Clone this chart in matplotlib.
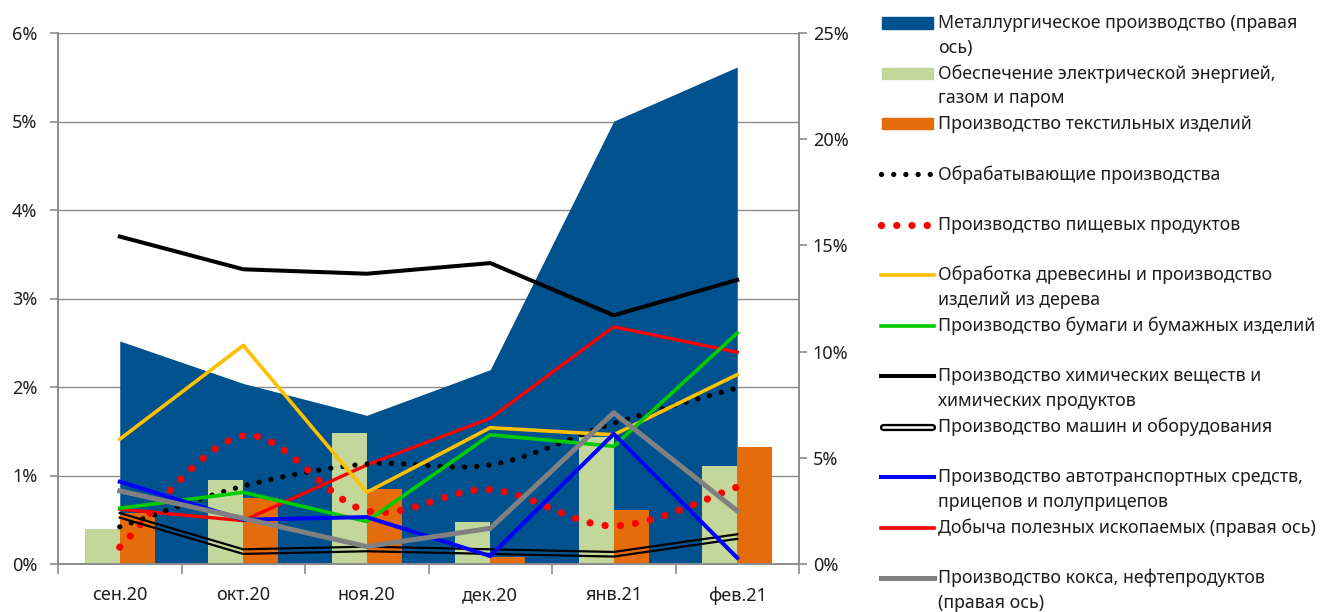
import numpy as np
import matplotlib
matplotlib.use('Agg')
import matplotlib.pyplot as plt
import matplotlib.transforms as mtransforms
from matplotlib.lines import Line2D
from matplotlib.patches import Rectangle

# Data (left axis in %, except series marked "right")
months = ['сен.20', 'окт.20', 'ноя.20', 'дек.20', 'янв.21', 'фев.21']
metal = [10.5, 8.5, 7.0, 9.15, 20.85, 23.4]          # right axis
electricity = [0.40, 0.95, 1.48, 0.48, 1.43, 1.11]
textile = [0.58, 0.75, 0.85, 0.08, 0.61, 1.32]
manufacturing = [0.42, 0.88, 1.13, 1.12, 1.59, 1.99]
food = [0.19, 1.45, 0.60, 0.84, 0.43, 0.87]
wood = [1.41, 2.47, 0.81, 1.54, 1.46, 2.14]
paper = [0.63, 0.81, 0.48, 1.46, 1.33, 2.61]
chemicals = [3.70, 3.33, 3.28, 3.40, 2.81, 3.21]
machines = [0.55, 0.14, 0.17, 0.14, 0.11, 0.31]
vehicles = [0.93, 0.50, 0.53, 0.09, 1.47, 0.07]
mining = [2.58, 2.04, 4.66, 6.86, 11.17, 9.97]         # right axis
coke = [3.44, 2.15, 0.82, 1.68, 7.12, 2.50]            # right axis

left_ticks = [0, 1, 2, 3, 4, 5, 6]
right_ticks = [0, 5, 10, 15, 20, 25]

legend_labels = [
    ['Металлургическое производство (правая', 'ось)'],
    ['Обеспечение электрической энергией,', 'газом и паром'],
    ['Производство текстильных изделий'],
    ['Обрабатывающие производства'],
    ['Производство пищевых продуктов'],
    ['Обработка древесины и производство', 'изделий из дерева'],
    ['Производство бумаги и бумажных изделий'],
    ['Производство химических веществ и', 'химических продуктов'],
    ['Производство машин и оборудования'],
    ['Производство автотранспортных средств,', 'прицепов и полуприцепов'],
    ['Добыча полезных ископаемых (правая ось)'],
    ['Производство кокса, нефтепродуктов', '(правая ось)'],
]

C_AREA = '#00528E'
C_ELEC = '#C4D79B'
C_TEXT = '#E46C0A'
C_GRID = '#8C8C8C'
C_LABEL = '#1E1E1E'

plt.rcParams['font.family'] = ['Noto Sans', 'DejaVu Sans']


def smooth(xs, ys, n=25):
    # Excel-style smoothed line (Bezier through the points)
    pts = np.column_stack([xs, ys]).astype(float)
    P = np.vstack([pts[0], pts, pts[-1]])
    t = np.linspace(0, 1, n)[:, None]
    out = []
    for i in range(1, len(P) - 2):
        p0, p1, p2, p3 = P[i - 1], P[i], P[i + 1], P[i + 2]
        c1 = p1 + (p2 - p0) / 6
        c2 = p2 - (p3 - p1) / 6
        seg = (1 - t) ** 3 * p1 + 3 * (1 - t) ** 2 * t * c1 + 3 * (1 - t) * t ** 2 * c2 + t ** 3 * p2
        out.append(seg if i == 1 else seg[1:])
    out = np.vstack(out)
    return out[:, 0], out[:, 1]


W, H = 1320, 612
fig = plt.figure(figsize=(W / 100, H / 100), dpi=100)
rect = [58 / W, 1 - 564 / H, (799 - 58) / W, (564 - 33) / H]
ax = fig.add_axes(rect)
ax2 = ax.twinx()

x = np.arange(len(months))

ax.set_xlim(-0.5, len(months) - 0.5)
ax.set_ylim(0, 6)
ax2.set_ylim(0, 25)

# grid below everything
ax.set_axisbelow(True)
ax.yaxis.grid(True, color=C_GRID, lw=1.0, zorder=0)

# metallurgy area (right axis scale, drawn inside the left axes for ordering)
ax.fill_between(x, 0, metal, color=C_AREA, lw=0, zorder=1, transform=ax2.transData)

# bars
bw = 0.283
ax.bar(x - bw / 2, electricity, bw, color=C_ELEC, zorder=2)
ax.bar(x + bw / 2, textile, bw, color=C_TEXT, zorder=2)

# lines
sx, sy = smooth(x, manufacturing)
ax.plot(sx, sy, color='black', lw=3.8, ls=(0, (0.01, 2.3)), dash_capstyle='round', zorder=4)
sx, sy = smooth(x, food)
ax.plot(sx, sy, color='#FF0000', lw=5.2, ls=(0, (0.01, 2.1)), dash_capstyle='round', zorder=4)
ax.plot(x, wood, color='#FFC000', lw=2.6, zorder=4)
ax.plot(x, paper, color='#00CC00', lw=2.6, zorder=4)
ax.plot(x, chemicals, color='black', lw=2.9, zorder=4)
off_up = mtransforms.offset_copy(ax.transData, fig=fig, y=2.3, units='dots')
off_dn = mtransforms.offset_copy(ax.transData, fig=fig, y=-2.3, units='dots')
ax.plot(x, machines, color='black', lw=1.6, zorder=4, transform=off_up)
ax.plot(x, machines, color='black', lw=1.6, zorder=4, transform=off_dn)
ax.plot(x, vehicles, color='#0000FF', lw=2.9, zorder=4)
ax.plot(x, mining, color='#FF0000', lw=2.4, zorder=3.9, transform=ax2.transData)
ax.plot(x, coke, color='#808080', lw=3.6, zorder=4, transform=ax2.transData)

# axes styling
ax.set_xticks(x)
ax.set_xticklabels(months, fontsize=13, color=C_LABEL)
ax.set_xticks(np.arange(-0.5, len(months)), minor=True)
ax.tick_params(axis='x', which='major', length=0, pad=16)
ax.tick_params(axis='x', which='minor', length=7, color=C_GRID, width=1.2)
ax.set_yticks(left_ticks)
ax.set_yticklabels([f'{v}%' for v in left_ticks], fontsize=13, color=C_LABEL)
ax.tick_params(axis='y', length=6, color=C_GRID, width=1.2, pad=9)
ax2.set_yticks(right_ticks)
ax2.set_yticklabels([f'{v}%' for v in right_ticks], fontsize=13, color=C_LABEL)
ax2.tick_params(axis='y', length=6, color=C_GRID, width=1.2, pad=4)
for a in (ax, ax2):
    a.spines['top'].set_visible(False)
    for s in ('left', 'right', 'bottom'):
        a.spines[s].set_color(C_GRID)
        a.spines[s].set_linewidth(1.2)

# legend (Excel layout: fixed slot height, handle on first text line)
fx = lambda px: px / W
fy = lambda py: 1 - py / H
styles = [
    dict(kind='patch', color=C_AREA),
    dict(kind='patch', color=C_ELEC),
    dict(kind='patch', color=C_TEXT),
    dict(kind='line', color='black', lw=3.8, ls=(0, (0.01, 2.3)), dash_capstyle='round'),
    dict(kind='line', color='#FF0000', lw=5.2, ls=(0, (0.01, 2.1)), dash_capstyle='round'),
    dict(kind='line', color='#FFC000', lw=2.6),
    dict(kind='line', color='#00CC00', lw=2.6),
    dict(kind='line', color='black', lw=2.9),
    dict(kind='double'),
    dict(kind='line', color='#0000FF', lw=2.9),
    dict(kind='line', color='#FF0000', lw=2.6),
    dict(kind='line', color='#808080', lw=3.6),
]
for i, (lines, st) in enumerate(zip(legend_labels, styles)):
    y0 = 23 + 50.45 * i
    if st['kind'] == 'patch':
        fig.add_artist(Rectangle((fx(882), fy(y0 + 5.5)), fx(933) - fx(882), 11 / H,
                                 color=st['color'], transform=fig.transFigure))
    elif st['kind'] == 'double':
        fig.add_artist(Line2D([fx(883), fx(932)], [fy(y0), fy(y0)], color='black', lw=5.2,
                              solid_capstyle='round', transform=fig.transFigure))
        fig.add_artist(Line2D([fx(883), fx(932)], [fy(y0), fy(y0)], color='white', lw=1.8,
                              solid_capstyle='round', transform=fig.transFigure))
    else:
        kw = {k: v for k, v in st.items() if k not in ('kind',)}
        fig.add_artist(Line2D([fx(881), fx(934)], [fy(y0), fy(y0)], transform=fig.transFigure, **kw))
    for j, t in enumerate(lines):
        fig.text(fx(938), fy(y0 + 25 * j), t, fontsize=12.8, color=C_LABEL, va='center', ha='left')

fig.savefig('out.png', dpi=100)
